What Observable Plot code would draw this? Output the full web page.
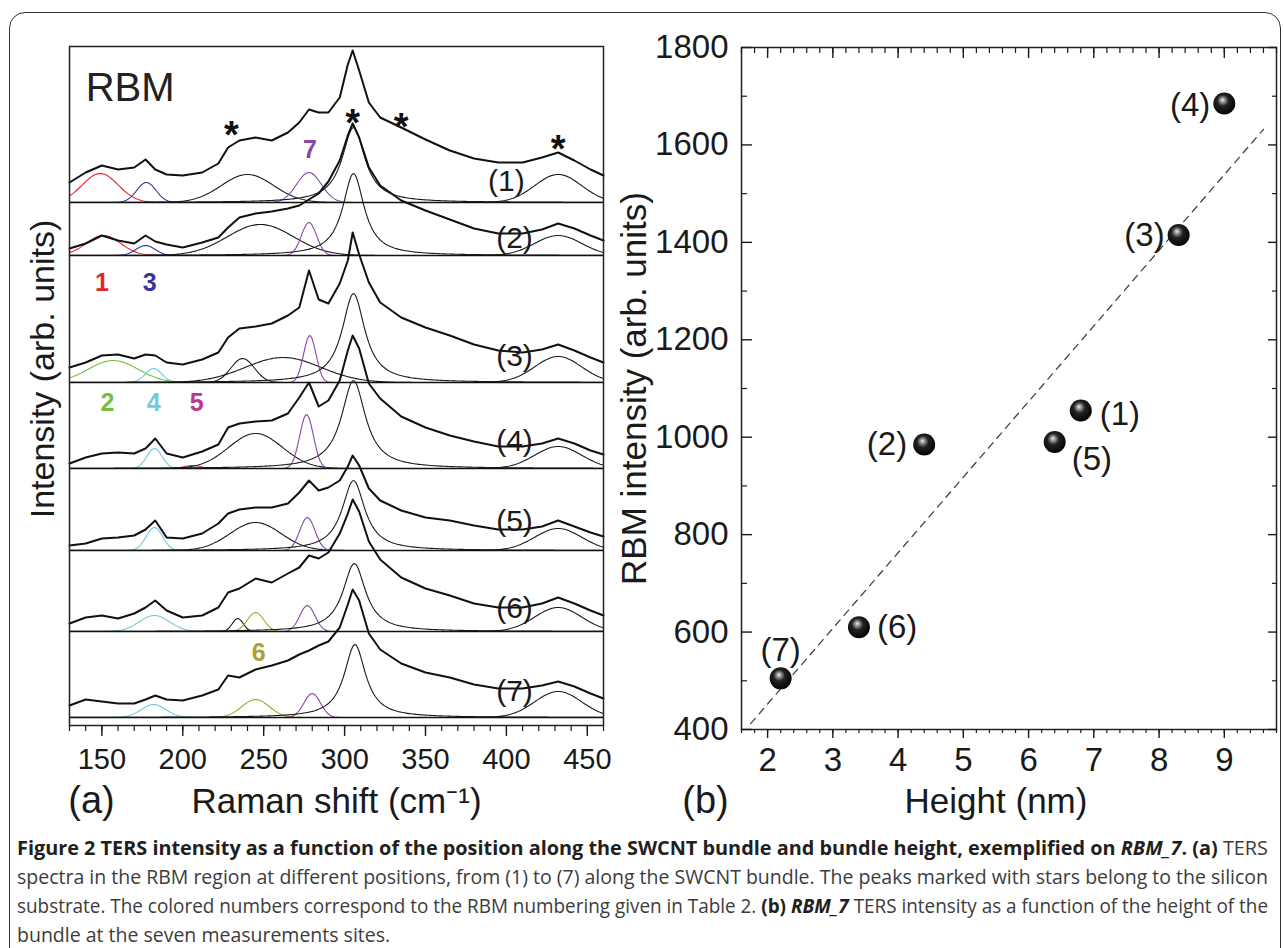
<!DOCTYPE html>
<html>
<head>
<meta charset="utf-8">
<script src="https://cdn.jsdelivr.net/npm/d3@7"></script>
<script src="https://cdn.jsdelivr.net/npm/@observablehq/plot@0.6"></script>
<style>
  html, body { margin: 0; padding: 0; background: #fff; }
  #page { position: relative; width: 1284px; height: 948px; overflow: hidden; background: #fff;
          font-family: "Liberation Sans", Arial, sans-serif; }
  #border { position: absolute; left: 9px; top: 12px; width: 1272px; height: 960px;
            border: 1.5px solid #333; border-radius: 16px; box-sizing: border-box; }
  #pa { position: absolute; left: 0; top: 0; }
  #pb { position: absolute; left: 600px; top: 0; }
  .cap { position: absolute; left: 17px; font-family: "Open Sans", sans-serif; font-size: 20px;
         line-height: 29px; white-space: nowrap; color: #3c3c3c; transform-origin: 0 0; }
  .cap b { color: #231f20; }
</style>
</head>
<body>
<div id="page">
  <div id="border"></div>
  <div id="pa"></div>
  <div id="pb"></div>
  <div class="cap" id="c1" style="top:833px"><b>Figure 2 TERS intensity as a function of the position along the SWCNT bundle and bundle height, exemplified on <i>RBM_7</i>. (a)</b> TERS</div>
  <div class="cap" id="c2" style="top:862px">spectra in the RBM region at different positions, from (1) to (7) along the SWCNT bundle. The peaks marked with stars belong to the silicon</div>
  <div class="cap" id="c3" style="top:891px">substrate. The colored numbers correspond to the RBM numbering given in Table 2. <b>(b)</b> <b><i>RBM_7</i></b> TERS intensity as a function of the height of the</div>
  <div class="cap" id="c4" style="top:920px">bundle at the seven measurements sites.</div>
</div>
<script>
// ---------------- Panel (a): TERS spectra (arb. units, stacked) ----------------
const ramanShift = [130,140,150,160,170,177,183,190,200,212,222,228,235,245,255,265,272,278,284,290,297,302,305,309,315,322,335,350,365,380,395,410,422,432,442,452,460];
const spectrum1 = [20,30,37,33,35,43,33,28,27,30,39,55,62,65,62,70,80,93,90,90,105,138,152,132,100,85,75,63,52,44,40,40,45,50,42,33,27];
const spectrum2 = [7,12,20,15,12,20,14,11,8,13,18,28,38,42,44,47,50,56,62,74,95,120,132,118,88,70,55,45,36,27,22,22,26,32,27,20,15];
const spectrum3 = [15,20,27,28,24,28,27,20,18,23,30,45,54,56,59,67,75,112,83,79,99,122,150,128,100,80,65,55,47,38,32,30,33,38,32,25,20];
const spectrum4 = [5,11,15,16,15,20,30,15,11,17,24,41,45,47,48,55,71,86,62,68,88,118,133,120,85,70,52,41,33,27,22,22,25,30,25,18,14];
const spectrum5 = [5,7,12,13,15,21,30,13,12,17,27,37,41,43,43,47,58,70,60,63,70,84,95,85,62,50,40,33,30,25,21,21,24,30,24,18,14];
const spectrum6 = [8,14,16,13,18,24,31,21,14,16,24,39,43,53,49,58,64,76,73,79,98,118,132,120,90,72,54,43,36,28,24,24,28,34,28,21,16];
const spectrum7 = [12,18,16,14,14,18,22,18,17,22,28,42,40,48,52,57,63,67,72,76,90,113,128,117,84,68,54,45,40,33,29,29,32,36,31,24,19];
const spectra = [spectrum1, spectrum2, spectrum3, spectrum4, spectrum5, spectrum6, spectrum7];
const spectrumOffset = [523, 470, 343, 257, 175, 94, 8];
const spectrumName = ["(1)", "(2)", "(3)", "(4)", "(5)", "(6)", "(7)"];

// fitted components: spectrum, band, centre, FWHM, height, profile
const peakSpectrum = [1,1,1,1,1,1, 2,2,2,2,2,2, 3,3,3,3,3,3,3, 4,4,4,4,4,4, 5,5,5,5,5, 6,6,6,6,6,6, 7,7,7,7,7];
const peakBand     = ["1","3","Si","7","Si","Si", "1","3","Si","7","Si","Si", "2","4","Si","bg","7","Si","Si", "4","5","Si","7","Si","Si", "4","Si","7","Si","Si", "4","Si","6","7","Si","Si", "4","6","7","Si","Si"];
const peakCenter   = [149,177.5,240,278,305.5,432, 151,177,248,278,305.5,432, 157,182,237,262,278.5,305.5,432, 182.5,206,245,276.5,305.5,432, 182.5,245,277,305.5,432, 182.5,234,245,277,306,432, 182,245,280,306.4,432];
const peakFwhm     = [26,14,38,18,17,34, 25,14,48,11,16,34, 36,12,17,55,9,17,34, 11,12,39,10,18,34, 12,37,11,17,34, 22,8,12,11,17,34, 18,20,12,16,34];
const peakHeight   = [29,20,28,30,75,28, 20,10,31,33,82,20, 22,14,24,25,47,89,26, 20,3,35,54,88,22, 23,28,33,70,22, 16,13,19,26,68,24, 13,18,24,73,26];
const peakShape    = ["G","G","G","G","L","G", "G","G","G","G","L","G", "G","G","G","G","G","L","G", "G","G","G","G","L","G", "G","G","G","L","G", "G","G","G","G","L","G", "G","G","G","L","G"];
const bandColor = {"1":"#e3262b","2":"#74bf3c","3":"#35369a","4":"#72c9dc","5":"#c0338f","6":"#a9a233","7":"#8747a8","Si":"#1a1a1a","bg":"#1a1a1a"};

const starShift = [230, 305, 335, 432];
const bandNumber = ["1","2","3","4","5","6","7"];
const bandNumberShift = [150, 153.4, 179.6, 182, 208.6, 247, 278.6];

// ---------------- Panel (b): RBM_7 intensity vs bundle height ----------------
const siteName = ["(1)","(2)","(3)","(4)","(5)","(6)","(7)"];
const bundleHeight = [6.8, 4.4, 8.3, 9.0, 6.4, 3.4, 2.2];
const rbmIntensity = [1055, 985, 1415, 1685, 990, 610, 505];
const fitHeight = [1.74, 9.6];
const fitIntensity = [412, 1632];

// ---------------- build tables ----------------
const specRows = [];
spectra.forEach((s, i) => s.forEach((v, j) => specRows.push({x: ramanShift[j], y: spectrumOffset[i] + v, s: i})));

const compRows = [];
peakCenter.forEach((c, k) => {
  const off = spectrumOffset[peakSpectrum[k] - 1];
  const hw = peakFwhm[k] / 2;
  for (let x = 130; x <= 460; x += 1) {
    const u = (x - c) / hw;
    const p = peakShape[k] === "L" ? 1 / (1 + u * u) : Math.exp(-Math.LN2 * u * u);
    compRows.push({x, y: off + peakHeight[k] * p, k, color: bandColor[peakBand[k]]});
  }
});

const starPos = [578, 590, 586, 564];
const starRows = starShift.map((x, i) => ({x, y: starPos[i]}));
const bandPos = [435, 315, 435, 315, 315, 65, 568];
const bandRows = bandNumber.map((t, i) => ({x: bandNumberShift[i], y: bandPos[i], t, color: bandColor[t]}));
const nameX = [400, 405, 405, 405, 405, 405, 405];
const nameY = [535, 478, 360, 275, 195, 108, 25];
const nameRows = spectrumName.map((t, i) => ({x: nameX[i], y: nameY[i], t}));

const font = "'Liberation Sans', Arial, sans-serif";
const plain = d => String(d);

const plotA = Plot.plot({
  width: 640, height: 830,
  marginLeft: 69, marginRight: 37, marginTop: 46, marginBottom: 105,
  x: {domain: [130, 460]},
  y: {domain: [0, 679], axis: null},
  color: {type: "identity"},
  style: {fontFamily: font, color: "#1a1a1a", background: "transparent", overflow: "visible"},
  marks: [
    Plot.line(compRows, {x: "x", y: "y", z: "k", stroke: "color", strokeWidth: 1.1}),
    Plot.ruleY(spectrumOffset, {stroke: "#111", strokeWidth: 1.6}),
    Plot.line(specRows, {x: "x", y: "y", z: "s", stroke: "#111", strokeWidth: 2}),
    Plot.frame({stroke: "#222", strokeWidth: 1.5}),
    Plot.axisX({ticks: d3.range(150, 451, 50), tickSize: 11, tickFormat: () => "", label: null, strokeWidth: 1.4}),
    Plot.axisX({ticks: d3.range(130, 461, 10), tickSize: 6, tickFormat: () => "", label: null, strokeWidth: 1.2}),
    Plot.axisX({ticks: d3.range(150, 451, 50), tickSize: 0, tickPadding: 23, tickFormat: plain, fontSize: 29, label: null, fill: "#1a1a1a"}),
    Plot.text(["RBM"], {x: 140, y: 625, text: d => d, textAnchor: "start", lineAnchor: "bottom", fontSize: 40, fill: "#222"}),
    Plot.text(starRows, {x: "x", y: "y", text: () => "*", lineAnchor: "bottom", fontSize: 38, fontWeight: "bold", fill: "#111"}),
    Plot.text(bandRows, {x: "x", y: "y", text: "t", fill: "color", lineAnchor: "bottom", fontSize: 25, fontWeight: "bold"}),
    Plot.text(nameRows, {x: "x", y: "y", text: "t", lineAnchor: "bottom", fontSize: 30, fill: "#1a1a1a"}),
    Plot.text(["Raman shift (cm\u207B\u00B9)"], {frameAnchor: "bottom", text: d => d, textAnchor: "middle", dy: 87, lineAnchor: "bottom", fontSize: 35, fill: "#1a1a1a"}),
    Plot.text(["(a)"], {frameAnchor: "bottom-left", text: d => d, textAnchor: "middle", dx: 22, dy: 87, lineAnchor: "bottom", fontSize: 38, fill: "#1a1a1a"}),
    Plot.text(["Intensity (arb. units)"], {frameAnchor: "left", text: d => d, textAnchor: "middle", rotate: -90, dx: -16, dy: -17, lineAnchor: "bottom", fontSize: 34, fill: "#1a1a1a"})
  ]
});
document.getElementById("pa").appendChild(plotA);

const siteRows = siteName.map((t, i) => ({t, x: bundleHeight[i], y: rbmIntensity[i]}));
const fitRows = fitHeight.map((x, i) => ({x, y: fitIntensity[i]}));
const labelStyle = {
  "(1)": {anchor: "start", dx: 19, dy: 4},
  "(2)": {anchor: "end", dx: -17, dy: 0},
  "(3)": {anchor: "end", dx: -14, dy: 0},
  "(4)": {anchor: "end", dx: -14, dy: 2},
  "(5)": {anchor: "start", dx: 17, dy: 17},
  "(6)": {anchor: "start", dx: 18, dy: 0},
  "(7)": {anchor: "middle", dx: 0, dy: -28}
};
const siteLabelMarks = siteRows.map(d => {
  const s = labelStyle[d.t];
  return Plot.text([d], {x: "x", y: "y", text: "t", textAnchor: s.anchor, dx: s.dx, dy: s.dy, lineAnchor: "middle", fontSize: 33, fill: "#1a1a1a"});
});
const minorX = d3.range(16, 99, 2).map(v => v / 10);
const sphereDefs = () => {
  const ns = "http://www.w3.org/2000/svg";
  const defs = document.createElementNS(ns, "defs");
  defs.innerHTML = '<radialGradient id="sphere" cx="0.45" cy="0.42" r="0.62" fx="0.42" fy="0.33">' +
    '<stop offset="0" stop-color="#f2f2f2"/><stop offset="0.16" stop-color="#9a9a9a"/>' +
    '<stop offset="0.42" stop-color="#222"/><stop offset="1" stop-color="#000"/></radialGradient>';
  return defs;
};

const plotB = Plot.plot({
  width: 684, height: 830,
  marginLeft: 141, marginRight: 8, marginTop: 47, marginBottom: 101,
  x: {domain: [1.6, 9.8]},
  y: {domain: [400, 1800]},
  style: {fontFamily: font, color: "#1a1a1a", background: "transparent", overflow: "visible"},
  marks: [
    Plot.frame({stroke: "#222", strokeWidth: 1.5}),
    Plot.axisX({ticks: d3.range(2, 10), tickSize: 9, tickFormat: () => "", label: null, strokeWidth: 1.4}),
    Plot.axisX({ticks: minorX, tickSize: 4, tickFormat: () => "", label: null, strokeWidth: 1.2}),
    Plot.axisX({ticks: d3.range(2, 10), tickSize: 0, tickPadding: 18, tickFormat: plain, fontSize: 33, label: null, fill: "#1a1a1a"}),
    Plot.axisX({anchor: "top", ticks: d3.range(2, 10), tickSize: -10, tickFormat: () => "", label: null, strokeWidth: 1.4}),
    Plot.axisX({anchor: "top", ticks: minorX, tickSize: -5, tickFormat: () => "", label: null, strokeWidth: 1.2}),
    Plot.axisY({ticks: d3.range(400, 1801, 200), tickSize: -11, tickFormat: () => "", label: null, strokeWidth: 1.4}),
    Plot.axisY({ticks: d3.range(500, 1800, 200), tickSize: -6, tickFormat: () => "", label: null, strokeWidth: 1.2}),
    Plot.axisY({ticks: d3.range(400, 1801, 200), tickSize: 0, tickPadding: 13, tickFormat: plain, fontSize: 33, label: null, fill: "#1a1a1a"}),
    Plot.axisY({anchor: "right", ticks: d3.range(400, 1801, 200), tickSize: -9, tickFormat: () => "", label: null, strokeWidth: 1.4}),
    Plot.axisY({anchor: "right", ticks: d3.range(500, 1800, 200), tickSize: -5, tickFormat: () => "", label: null, strokeWidth: 1.2}),
    Plot.line(fitRows, {x: "x", y: "y", stroke: "#444", strokeWidth: 1.3, strokeDasharray: "7,6"}),
    sphereDefs,
    Plot.dot(siteRows, {x: "x", y: "y", r: 11, fill: "url(#sphere)", stroke: "none"}),
    ...siteLabelMarks,
    Plot.text(["Height (nm)"], {frameAnchor: "bottom", text: d => d, textAnchor: "middle", dx: -13, dy: 83, lineAnchor: "bottom", fontSize: 35, fill: "#1a1a1a"}),
    Plot.text(["(b)"], {frameAnchor: "bottom-left", text: d => d, textAnchor: "middle", dx: -36, dy: 83, lineAnchor: "bottom", fontSize: 38, fill: "#1a1a1a"}),
    Plot.text(["RBM intensity (arb. units)"], {frameAnchor: "left", text: d => d, textAnchor: "middle", rotate: -90, dx: -96, dy: 0, lineAnchor: "bottom", fontSize: 35, fill: "#1a1a1a"})
  ]
});
document.getElementById("pb").appendChild(plotB);

// caption: fit lines to the justified width of the original
function fitCaption() {
  const target = 1251;
  const ids = ["c1", "c2", "c3"];
  const scales = [];
  ids.forEach(id => {
    const el = document.getElementById(id);
    el.style.transform = "none";
    const w = el.getBoundingClientRect().width;
    const s = target / w;
    scales.push(s);
    el.style.transform = `scaleX(${s})`;
  });
  document.getElementById("c4").style.transform = `scaleX(${scales[1]})`;
}
fitCaption();
if (document.fonts && document.fonts.ready) document.fonts.ready.then(fitCaption);
</script>
</body>
</html>
